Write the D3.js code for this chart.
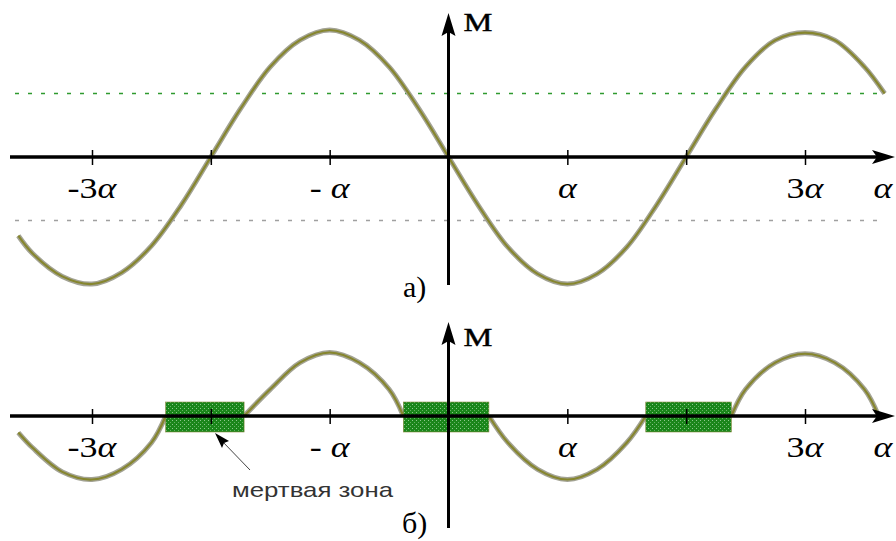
<!DOCTYPE html>
<html>
<head>
<meta charset="utf-8">
<script src="https://cdn.jsdelivr.net/npm/d3@7/dist/d3.min.js"></script>
<style>
  html, body { margin: 0; padding: 0; background: #fff; }
  svg { display: block; }
</style>
</head>
<body>
<script>
// Angle positions (in units of α) and the moment M for the plain curve (panel а)
const topAngle = [-3.62, -3.5, -3.25, -3.0, -2.75, -2.5, -2.25, -2.0, -1.75, -1.5, -1.25, -1.0,
                  -0.75, -0.5, -0.25, 0.0, 0.25, 0.5, 0.75, 1.0, 1.25, 1.5, 1.75, 2.0,
                  2.25, 2.5, 2.75, 3.0, 3.25, 3.5, 3.67];
const topMoment = [-0.62, -0.76, -0.94, -1.0, -0.91, -0.7, -0.38, 0.0, 0.38, 0.71, 0.92, 1.0,
                   0.92, 0.71, 0.38, 0.0, -0.38, -0.71, -0.92, -1.0, -0.92, -0.71, -0.38, 0.0,
                   0.38, 0.71, 0.92, 0.98, 0.92, 0.71, 0.5];

// Moment with the dead zone removed (panel б)
const botAngle = [-3.62, -3.5, -3.25, -3.0, -2.75, -2.5, -2.38, -1.72, -1.5, -1.25, -1.0,
                  -0.75, -0.5, -0.38, 0.34, 0.5, 0.75, 1.0, 1.25, 1.5, 1.66, 2.38,
                  2.5, 2.75, 3.0, 3.25, 3.5, 3.62];
const botMoment = [-0.13, -0.25, -0.44, -0.5, -0.42, -0.21, 0.0, 0.0, 0.21, 0.42, 0.5,
                   0.42, 0.21, 0.0, 0.0, -0.21, -0.42, -0.5, -0.42, -0.21, 0.0, 0.0,
                   0.21, 0.42, 0.49, 0.42, 0.21, 0.0];

// Dead zones along the angle axis
const deadFrom = [-2.38, -0.38, 1.66];
const deadTo   = [-1.72, 0.34, 2.38];

// Threshold levels drawn as dotted lines in panel а
const thresholdLevels = [0.5, -0.5];
const thresholdColors = ["#2f9a2f", "#a0a0a0"];

// Axis ticks and their labels
const tickAngles = [-3, -2, -1, 1, 2, 3];
const labelAngles = [-3, -1, 1, 3];
const labelPrefix = ["-3", "- ", "", "3"];

const W = 896, H = 541;
const svg = d3.select("body").append("svg").attr("width", W).attr("height", H);

const defs = svg.append("defs");
const pat = defs.append("pattern").attr("id", "dz").attr("patternUnits", "userSpaceOnUse")
  .attr("width", 4).attr("height", 4);
pat.append("rect").attr("width", 4).attr("height", 4).attr("fill", "#1a861a");
pat.append("rect").attr("x", 0).attr("y", 0).attr("width", 1).attr("height", 1).attr("fill", "#8cc88c");
pat.append("rect").attr("x", 2).attr("y", 2).attr("width", 1).attr("height", 1).attr("fill", "#62b062");

const x = d3.scaleLinear().domain([-3, 3]).range([92, 805]);
const yTop = d3.scaleLinear().domain([-1, 1]).range([284, 30]);
const yBot = d3.scaleLinear().domain([-1, 1]).range([543, 289]);

const serif = "'Liberation Serif', 'Times New Roman', serif";

// Splits a series into pieces wherever it runs flat along the axis
function pieces(us, ms) {
  const out = [];
  let cur = [];
  us.forEach((u, i) => {
    cur.push([u, ms[i]]);
    if (ms[i] === 0 && i + 1 < us.length && ms[i + 1] === 0) {
      out.push(cur);
      cur = [];
    }
  });
  if (cur.length) out.push(cur);
  return out;
}

function drawCurve(g, us, ms, y) {
  const line = d3.line().x(d => x(d[0])).y(d => y(d[1])).curve(d3.curveCatmullRom.alpha(0.5));
  pieces(us, ms).forEach(pts => {
    g.append("path").attr("d", line(pts)).attr("fill", "none")
      .attr("stroke", "#a3a394").attr("stroke-width", 5).attr("stroke-linejoin", "round");
    g.append("path").attr("d", line(pts)).attr("fill", "none")
      .attr("stroke", "#86862e").attr("stroke-width", 2.2).attr("stroke-linejoin", "round");
  });
}

// Horizontally widened serif label
function wideText(g, cx, cy, size, anchor) {
  return g.append("text").attr("x", cx).attr("y", cy)
    .attr("text-anchor", anchor).attr("font-family", serif).attr("font-size", size)
    .attr("fill", "#000")
    .attr("transform", `translate(${cx},0) scale(1.2,1) translate(${-cx},0)`);
}

function drawXAxis(g, y) {
  const y0 = y(0);
  g.append("line").attr("x1", 10).attr("x2", 880).attr("y1", y0).attr("y2", y0)
    .attr("stroke", "#000").attr("stroke-width", 3.5);
  g.append("path")
    .attr("d", `M895,${y0} L872,${y0 - 7} L877,${y0} L872,${y0 + 7} Z`)
    .attr("fill", "#000");
  const ax = g.append("g").attr("transform", `translate(0,${y0})`)
    .call(d3.axisBottom(x).tickValues(tickAngles).tickSize(8).tickFormat(""));
  ax.select(".domain").remove();
  ax.selectAll(".tick line").attr("y1", -7).attr("y2", 8)
    .attr("stroke", "#000").attr("stroke-width", 1.5);

  labelAngles.forEach((u, i) => {
    const t = wideText(g, x(u), y0 + 41, 30, "middle");
    if (labelPrefix[i]) t.append("tspan").text(labelPrefix[i]);
    t.append("tspan").attr("font-style", "italic").text("α");
  });
  wideText(g, 883, y0 + 41, 30, "middle").attr("font-style", "italic").text("α");
}

function drawYAxis(g, top, bottom, labelY) {
  const x0 = x(0);
  g.append("line").attr("x1", x0).attr("x2", x0).attr("y1", top + 18).attr("y2", bottom)
    .attr("stroke", "#000").attr("stroke-width", 3);
  g.append("path")
    .attr("d", `M${x0},${top} L${x0 + 7},${top + 23} L${x0},${top + 19} L${x0 - 7},${top + 23} Z`)
    .attr("fill", "#000");
  const lx = x0 + 15;
  g.append("text").attr("x", lx).attr("y", labelY)
    .attr("font-family", serif).attr("font-size", 25).attr("fill", "#000")
    .attr("stroke", "#000").attr("stroke-width", 0.4)
    .attr("transform", `translate(${lx},0) scale(1.3,1) translate(${-lx},0)`)
    .text("M");
}

// Panel а
const gA = svg.append("g");
thresholdLevels.forEach((m, i) => {
  gA.append("line").attr("x1", 15).attr("x2", 880)
    .attr("y1", yTop(m)).attr("y2", yTop(m))
    .attr("stroke", thresholdColors[i]).attr("stroke-width", 1.5)
    .attr("stroke-dasharray", "4,9");
});
drawCurve(gA, topAngle, topMoment, yTop);
drawYAxis(gA, 13, 285, 31);
drawXAxis(gA, yTop);
gA.append("text").attr("x", 403).attr("y", 297).attr("font-family", serif)
  .attr("font-size", 30).attr("fill", "#000").text("а)");

// Panel б
const gB = svg.append("g");
drawCurve(gB, botAngle, botMoment, yBot);
deadFrom.forEach((u, i) => {
  gB.append("rect").attr("x", x(u)).attr("width", x(deadTo[i]) - x(u))
    .attr("y", yBot(0) - 14).attr("height", 30)
    .attr("fill", "url(#dz)").attr("stroke", "#8a8a40").attr("stroke-width", 0.6);
});
drawYAxis(gB, 322, 528, 346);
drawXAxis(gB, yBot);

// Dead-zone annotation
gB.append("line").attr("x1", 250).attr("y1", 470).attr("x2", 222).attr("y2", 441)
  .attr("stroke", "#444").attr("stroke-width", 1);
gB.append("path").attr("d", "M215,433 L229,441 L224,443 L222,448 Z").attr("fill", "#000");
gB.append("text").attr("x", 232).attr("y", 497)
  .attr("font-family", "'Liberation Sans', Arial, sans-serif").attr("font-size", 21)
  .attr("fill", "#333").attr("textLength", 161).attr("lengthAdjust", "spacingAndGlyphs")
  .text("мертвая зона");
gB.append("text").attr("x", 402).attr("y", 533).attr("font-family", serif)
  .attr("font-size", 30).attr("fill", "#000").text("б)");
</script>
</body>
</html>
